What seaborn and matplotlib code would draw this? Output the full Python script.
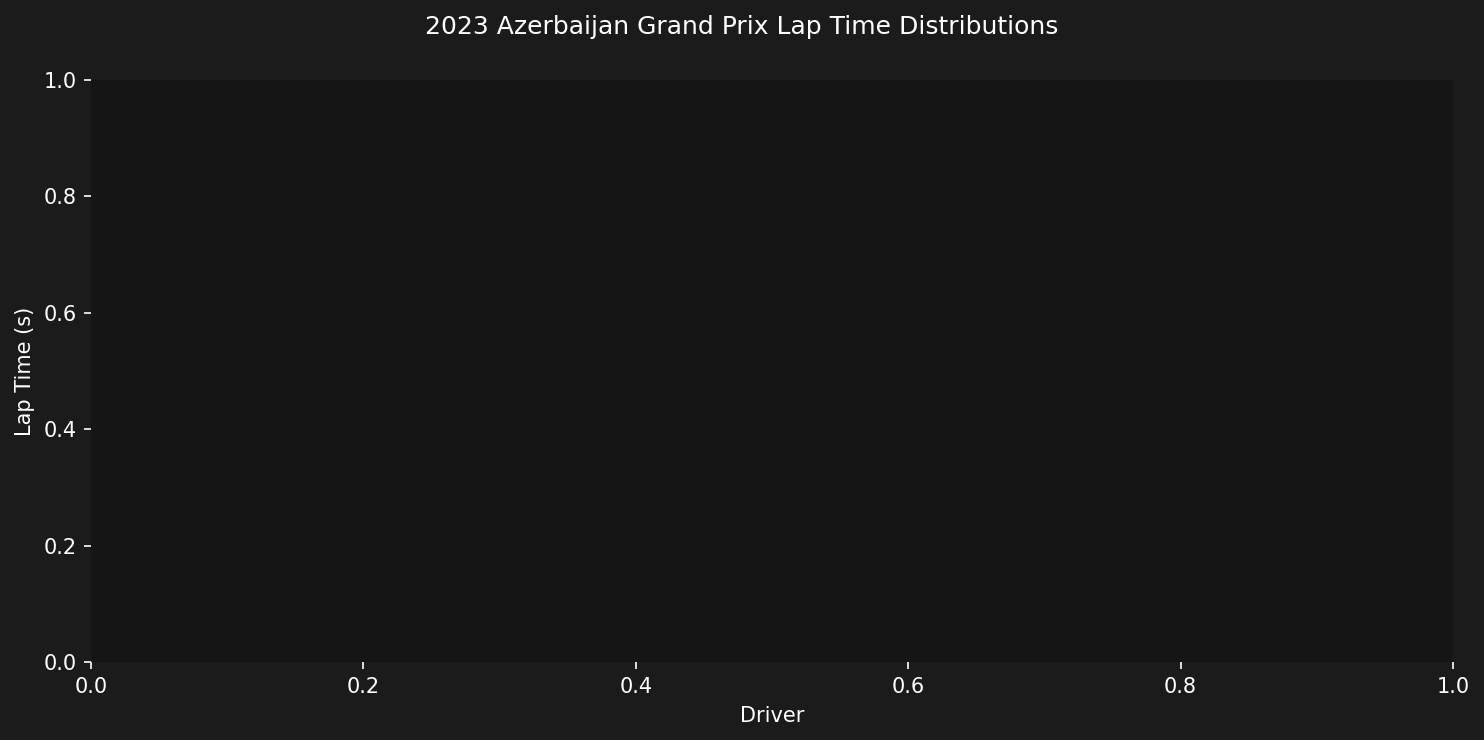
import matplotlib
matplotlib.use('Agg')
import numpy as np
import pandas as pd
import matplotlib.pyplot as plt
import seaborn as sns

# The reference shows no laps at all: the session data came back empty
drivers = []
lap_times = []

BG = '#1b1b1b'
AX_BG = '#151515'
FG = '#ffffff'

sns.set_style('dark', {'axes.facecolor': AX_BG, 'figure.facecolor': BG})
plt.rcParams['font.family'] = ['DejaVu Sans']

fig, ax = plt.subplots(figsize=(1484 / 150, 740 / 150), dpi=150)
fig.patch.set_facecolor(BG)
ax.set_facecolor(AX_BG)

laps = pd.DataFrame({'Driver': drivers, 'LapTime': lap_times})
if len(laps):
    sns.violinplot(data=laps, x='Driver', y='LapTime', ax=ax, inner=None)

for s in ax.spines.values():
    s.set_visible(False)
ax.tick_params(colors=FG, labelcolor=FG, length=3.5, width=0.8, bottom=True, left=True, labelsize=10)
ax.set_xlabel('Driver', color=FG, fontsize=10, labelpad=4.5)
ax.set_ylabel('Lap Time (s)', color=FG, fontsize=10)
ax.set_xlim(0, 1)
ax.set_ylim(0, 1)
fig.suptitle('2023 Azerbaijan Grand Prix Lap Time Distributions', color=FG, fontsize=12, y=0.98)
fig.subplots_adjust(left=91 / 1484, right=1453 / 1484, top=1 - 80 / 740, bottom=1 - 662 / 740)
fig.savefig('out.png', dpi=150, facecolor=BG)
